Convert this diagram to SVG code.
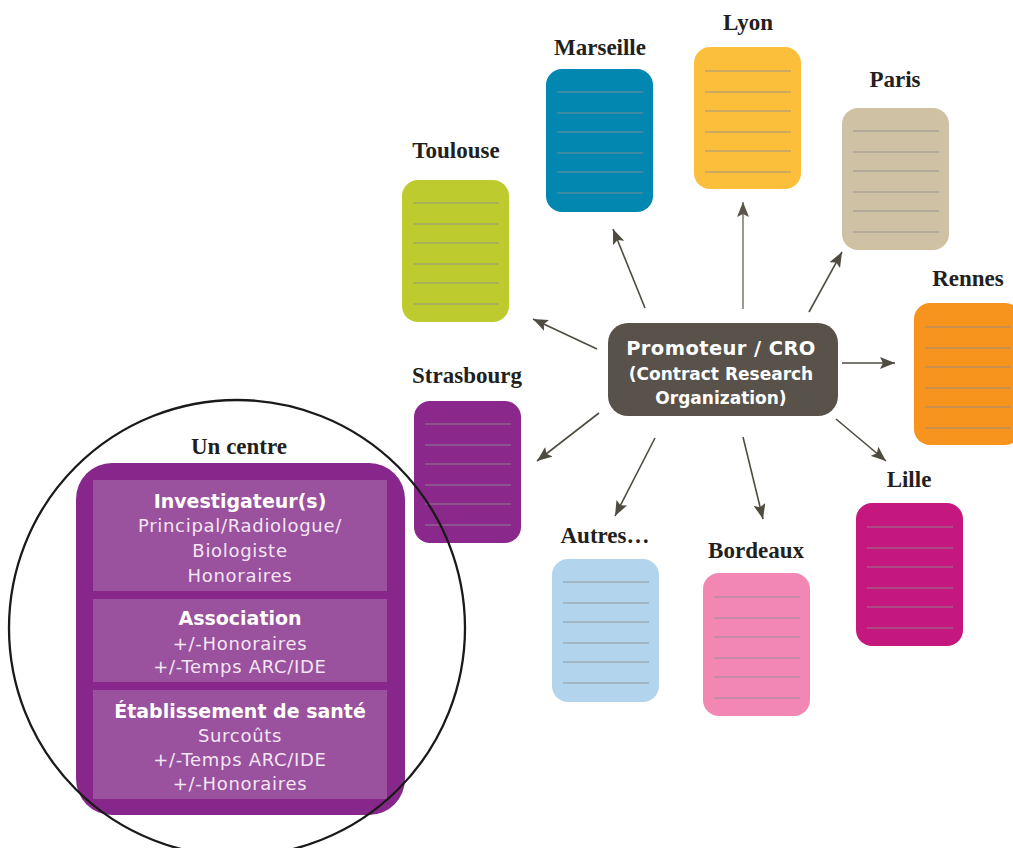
<svg xmlns="http://www.w3.org/2000/svg" width="1013" height="848" viewBox="0 0 1013 848">
<style>
.card{stroke:none}
.ln{stroke:#8f8f8f;stroke-opacity:0.85;stroke-width:1.2}
.city{font-family:"Liberation Serif","DejaVu Serif",serif;font-weight:bold;font-size:23px;fill:#231f20;text-anchor:middle}
.arr{stroke:#4f4b40;stroke-width:1.6;fill:none;marker-end:url(#ah)}
.hb{font-family:"DejaVu Sans",sans-serif;font-weight:bold;font-size:19px;fill:#ffffff;text-anchor:middle}
.hr{font-family:"DejaVu Sans",sans-serif;font-size:18px;fill:#f3e6f3;text-anchor:middle;letter-spacing:0.7px}
.cb{font-family:"DejaVu Sans",sans-serif;font-weight:bold;fill:#ffffff;text-anchor:middle}
</style>
<defs>
<marker id="ah" markerUnits="userSpaceOnUse" markerWidth="16" markerHeight="12" refX="15" refY="6" orient="auto">
<path d="M0,0 L15,6 L0,12 L3,6 z" fill="#4f4b40"/>
</marker>
<marker id="ah2" markerUnits="userSpaceOnUse" markerWidth="16" markerHeight="12" refX="15" refY="6" orient="auto">
<path d="M0,0 L15,6 L0,12 L3,6 z" fill="#5a5548"/>
</marker>
<g id="lines">
<line class="ln" x1="11" y1="23" x2="97" y2="23"/>
<line class="ln" x1="11" y1="44" x2="97" y2="44"/>
<line class="ln" x1="11" y1="63" x2="97" y2="63"/>
<line class="ln" x1="11" y1="84" x2="97" y2="84"/>
<line class="ln" x1="11" y1="103" x2="97" y2="103"/>
<line class="ln" x1="11" y1="124" x2="97" y2="124"/>
</g>
</defs>

<g id="connectors">
<line class="arr" x1="597" y1="349" x2="533" y2="319"/>
<line class="arr" x1="645" y1="308" x2="613" y2="229"/>
<line x1="743" y1="309" x2="743" y2="202" stroke="#857f72" stroke-width="1.6" marker-end="url(#ah2)"/>
<line class="arr" x1="809" y1="312" x2="842" y2="252"/>
<line class="arr" x1="842" y1="363" x2="895" y2="363"/>
<line class="arr" x1="836" y1="419" x2="886" y2="461"/>
<line class="arr" x1="743" y1="437" x2="763" y2="519"/>
<line class="arr" x1="655" y1="438" x2="615" y2="516"/>
<line class="arr" x1="599" y1="413" x2="537" y2="461"/>
</g>

<g id="promoteur">
<rect x="608" y="323" width="230" height="93" rx="20" fill="#58524a"/>
<text class="cb" x="721" y="355" font-size="19.5" letter-spacing="0.4">Promoteur / CRO</text>
<text class="cb" x="721" y="380" font-size="17">(Contract Research</text>
<text class="cb" x="721" y="404" font-size="17">Organization)</text>
</g>

<g id="toulouse">
<text class="city" x="456" y="158">Toulouse</text>
<rect class="card" x="402" y="180" width="107" height="142" rx="16" fill="#bdcb2f"/>
<use href="#lines" x="402" y="180"/>
</g>
<g id="marseille">
<text class="city" x="600" y="55">Marseille</text>
<rect class="card" x="546" y="69" width="107" height="143" rx="16" fill="#0287b1"/>
<use href="#lines" x="546" y="69"/>
</g>
<g id="lyon">
<text class="city" x="748" y="30">Lyon</text>
<rect class="card" x="694" y="47" width="107" height="142" rx="16" fill="#fcbf3c"/>
<use href="#lines" x="694" y="48"/>
</g>
<g id="paris">
<text class="city" x="895" y="87">Paris</text>
<rect class="card" x="842" y="108" width="107" height="142" rx="16" fill="#cfc1a4"/>
<use href="#lines" x="842" y="108"/>
</g>
<g id="rennes">
<text class="city" x="968" y="286">Rennes</text>
<rect class="card" x="914" y="303" width="107" height="142" rx="16" fill="#f7941e"/>
<use href="#lines" x="914" y="304"/>
</g>
<g id="strasbourg">
<text class="city" x="467" y="383">Strasbourg</text>
<rect class="card" x="414" y="401" width="107" height="142" rx="16" fill="#8a288c"/>
<use href="#lines" x="414" y="401"/>
</g>
<g id="autres">
<text class="city" x="605" y="543">Autres…</text>
<rect class="card" x="552" y="559" width="107" height="143" rx="16" fill="#b2d4ec"/>
<use href="#lines" x="552" y="559"/>
</g>
<g id="bordeaux">
<text class="city" x="756" y="558">Bordeaux</text>
<rect class="card" x="703" y="573" width="107" height="143" rx="16" fill="#f287b3"/>
<use href="#lines" x="703" y="574"/>
</g>
<g id="lille">
<text class="city" x="909" y="487">Lille</text>
<rect class="card" x="856" y="503" width="107" height="143" rx="16" fill="#c5187f"/>
<use href="#lines" x="856" y="504"/>
</g>

<g id="un-centre">
<text class="city" x="239" y="454">Un centre</text>
<rect x="76" y="463" width="329" height="352" rx="36" fill="#88278b"/>
<rect x="93" y="480" width="294" height="111" fill="#9a519e"/>
<rect x="93" y="599" width="294" height="83" fill="#9a519e"/>
<rect x="93" y="690" width="294" height="109" fill="#9a519e"/>
<text class="hb" x="240" y="508">Investigateur(s)</text>
<text class="hr" x="240" y="532">Principal/Radiologue/</text>
<text class="hr" x="240" y="557">Biologiste</text>
<text class="hr" x="240" y="582" font-size="21" letter-spacing="0.6" fill="#ffffff">Honoraires</text>
<text class="hb" x="240" y="625">Association</text>
<text class="hr" x="240" y="650">+/-Honoraires</text>
<text class="hr" x="240" y="673">+/-Temps ARC/IDE</text>
<text class="hb" x="240" y="718">Établissement de santé</text>
<text class="hr" x="240" y="742">Surcoûts</text>
<text class="hr" x="240" y="766">+/-Temps ARC/IDE</text>
<text class="hr" x="240" y="790">+/-Honoraires</text>
<circle cx="237" cy="628" r="228" fill="none" stroke="#1a1a1a" stroke-width="2.3"/>
</g>
</svg>
